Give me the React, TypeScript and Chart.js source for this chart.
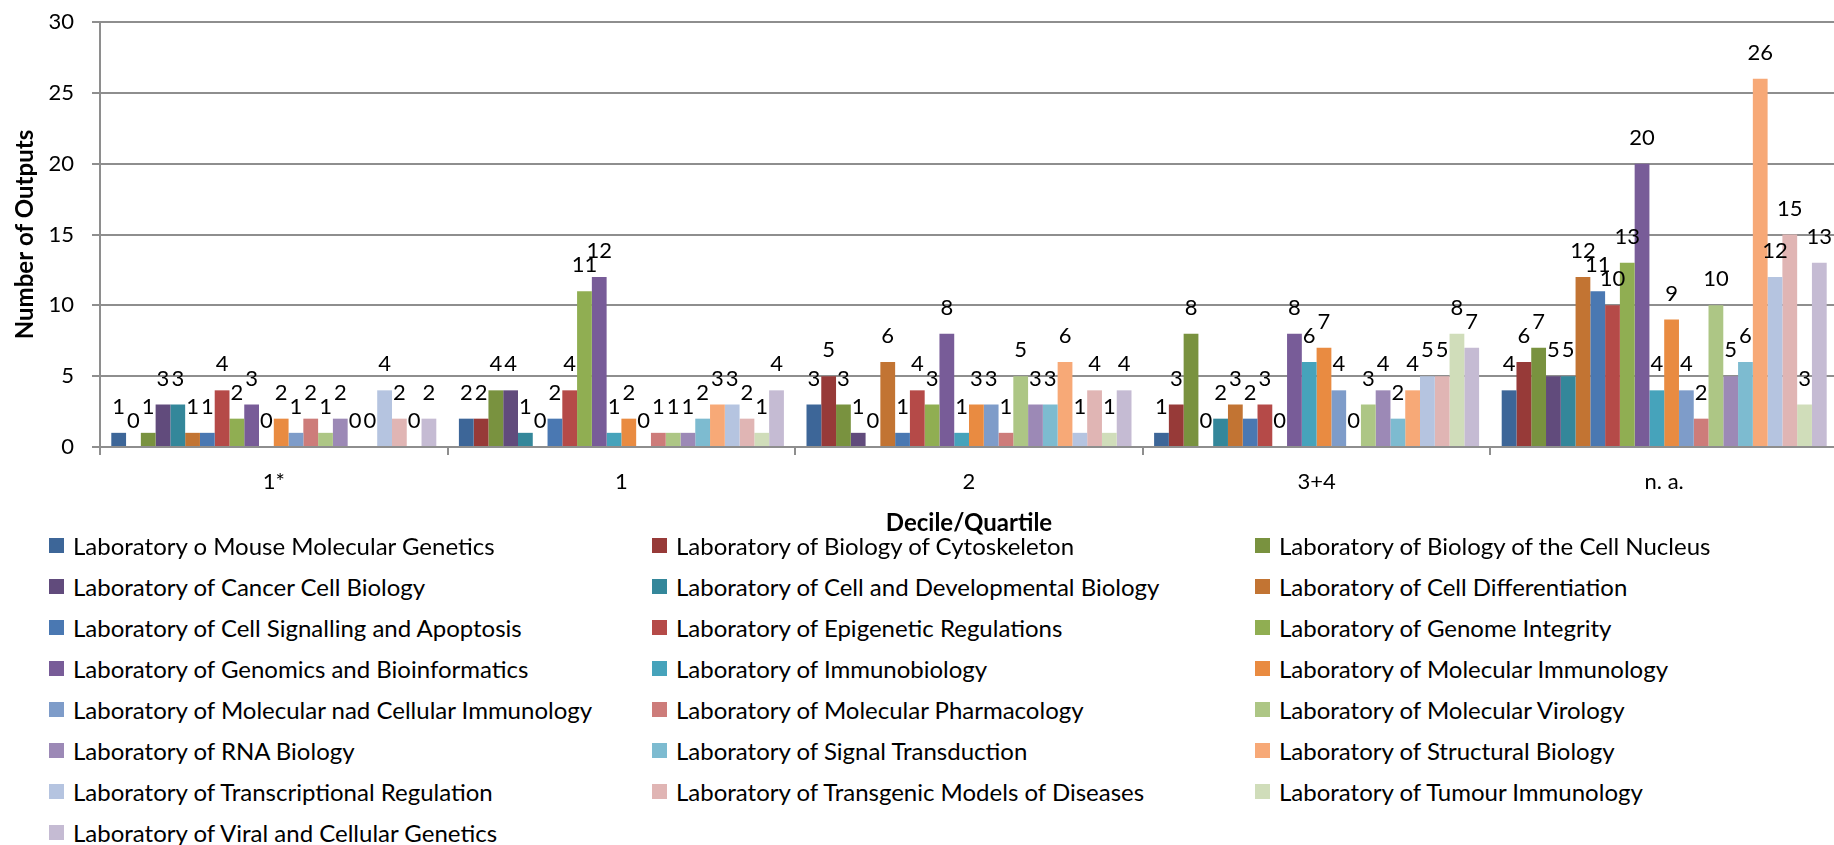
import React, { useEffect, useRef } from "react";
import { Chart, registerables } from "chart.js";

Chart.register(...registerables);

const categories = ["1*", "1", "2", "3+4", "n. a."];

const seriesNames = [
  "Laboratory o Mouse Molecular Genetics",
  "Laboratory of Biology of Cytoskeleton",
  "Laboratory of Biology of the Cell Nucleus",
  "Laboratory of Cancer Cell Biology",
  "Laboratory of Cell and Developmental Biology",
  "Laboratory of Cell Differentiation",
  "Laboratory of Cell Signalling and Apoptosis",
  "Laboratory of Epigenetic Regulations",
  "Laboratory of Genome Integrity",
  "Laboratory of Genomics and Bioinformatics",
  "Laboratory of Immunobiology",
  "Laboratory of Molecular Immunology",
  "Laboratory of Molecular nad Cellular Immunology",
  "Laboratory of Molecular Pharmacology",
  "Laboratory of Molecular Virology",
  "Laboratory of RNA Biology",
  "Laboratory of Signal Transduction",
  "Laboratory of Structural Biology",
  "Laboratory of Transcriptional Regulation",
  "Laboratory of Transgenic Models of Diseases",
  "Laboratory of Tumour Immunology",
  "Laboratory of Viral and Cellular Genetics",
];

// values per category (1*, 1, 2, 3+4, n. a.)
const mouseMolecularGenetics = [1, 2, 3, 1, 4];
const biologyOfCytoskeleton = [0, 2, 5, 3, 6];
const cellNucleus = [1, 4, 3, 8, 7];
const cancerCellBiology = [3, 4, 1, 0, 5];
const cellDevelopmentalBiology = [3, 1, 0, 2, 5];
const cellDifferentiation = [1, 0, 6, 3, 12];
const cellSignallingApoptosis = [1, 2, 1, 2, 11];
const epigeneticRegulations = [4, 4, 4, 3, 10];
const genomeIntegrity = [2, 11, 3, 0, 13];
const genomicsBioinformatics = [3, 12, 8, 8, 20];
const immunobiology = [0, 1, 1, 6, 4];
const molecularImmunology = [2, 2, 3, 7, 9];
const molecularCellularImmunology = [1, 0, 3, 4, 4];
const molecularPharmacology = [2, 1, 1, 0, 2];
const molecularVirology = [1, 1, 5, 3, 10];
const rnaBiology = [2, 1, 3, 4, 5];
const signalTransduction = [0, 2, 3, 2, 6];
const structuralBiology = [0, 3, 6, 4, 26];
const transcriptionalRegulation = [4, 3, 1, 5, 12];
const transgenicModels = [2, 2, 4, 5, 15];
const tumourImmunology = [0, 1, 1, 8, 3];
const viralCellularGenetics = [2, 4, 4, 7, 13];

const seriesValues = [
  mouseMolecularGenetics,
  biologyOfCytoskeleton,
  cellNucleus,
  cancerCellBiology,
  cellDevelopmentalBiology,
  cellDifferentiation,
  cellSignallingApoptosis,
  epigeneticRegulations,
  genomeIntegrity,
  genomicsBioinformatics,
  immunobiology,
  molecularImmunology,
  molecularCellularImmunology,
  molecularPharmacology,
  molecularVirology,
  rnaBiology,
  signalTransduction,
  structuralBiology,
  transcriptionalRegulation,
  transgenicModels,
  tumourImmunology,
  viralCellularGenetics,
];

const seriesColors = [
  "#3D6698", "#973A38", "#79923F", "#614B7C", "#34879A", "#C27433",
  "#4A78B2", "#B54A48", "#90AE52", "#785C98", "#46A3BB", "#E98B41",
  "#7E9CC9", "#CD7C7A", "#ADC685", "#9C89B6", "#7DBBD0", "#F7A977",
  "#B5C4E0", "#E0B5B4", "#D0DDBA", "#C5BBD3",
];

const yTicks = [0, 5, 10, 15, 20, 25, 30];

const FONT = 'Lato, "Open Sans", sans-serif';
const GRID = "#8E8E8E";

const labelsPlugin = {
  id: "valueLabels",
  afterDatasetsDraw(chart: any) {
    const ctx = chart.ctx;
    ctx.save();
    ctx.font = `22px ${FONT}`;
    ctx.fillStyle = "#000";
    ctx.textAlign = "center";
    ctx.textBaseline = "alphabetic";
    chart.data.datasets.forEach((ds: any, di: number) => {
      const meta = chart.getDatasetMeta(di);
      meta.data.forEach((el: any, i: number) => {
        ctx.fillText(String(ds.data[i]), el.x, el.y - 19);
      });
    });
    ctx.restore();
  },
};

const titlesPlugin = {
  id: "axisTitles",
  afterDraw(chart: any) {
    const ctx = chart.ctx;
    const a = chart.chartArea;
    ctx.save();
    ctx.font = `bold 24px ${FONT}`;
    ctx.fillStyle = "#000";
    ctx.textAlign = "center";
    ctx.textBaseline = "middle";
    ctx.fillText("Decile/Quartile", (a.left + a.right) / 2, a.bottom + 76);
    ctx.translate(25, (a.top + a.bottom) / 2);
    ctx.rotate(-Math.PI / 2);
    ctx.fillText("Number of Outputs", 0, 0);
    ctx.restore();
  },
};

export default function App() {
  const ref = useRef<HTMLCanvasElement>(null);

  useEffect(() => {
    document.body.style.margin = "0";
    document.body.style.overflow = "hidden";
    const canvas = ref.current!;
    const chart = new Chart(canvas, {
      type: "bar",
      data: {
        labels: categories,
        datasets: seriesNames.map((name, i) => ({
          label: name,
          data: seriesValues[i],
          backgroundColor: seriesColors[i],
          borderWidth: 0,
          barPercentage: 1,
          categoryPercentage: 0.935,
        })),
      },
      options: {
        responsive: false,
        animation: false,
        devicePixelRatio: 1,
        layout: { padding: { top: 22, right: 0, left: 0, bottom: 0 } },
        plugins: {
          legend: { display: false },
          tooltip: { enabled: false },
          title: { display: false },
        },
        scales: {
          x: {
            offset: true,
            grid: {
              display: true,
              offset: true,
              drawOnChartArea: false,
              drawTicks: true,
              tickLength: 8,
              color: GRID,
              lineWidth: 2,
            },
            border: { display: true, color: GRID, width: 2 },
            ticks: {
              color: "#000",
              font: { family: FONT, size: 22 },
              padding: 14,
              maxRotation: 0,
            },
            afterFit: (s: any) => {
              s.height = 540 - 447;
            },
          },
          y: {
            min: 0,
            max: 30,
            afterBuildTicks: (s: any) => {
              s.ticks = yTicks.map((v) => ({ value: v }));
            },
            grid: {
              color: GRID,
              lineWidth: 2,
              tickLength: 8,
            },
            border: { display: true, color: GRID, width: 2 },
            ticks: {
              color: "#000",
              font: { family: FONT, size: 22 },
              padding: 18,
            },
            afterFit: (s: any) => {
              s.width = 100;
              s.paddingTop = 0;
              s.paddingBottom = 0;
            },
          },
        },
      },
      plugins: [labelsPlugin, titlesPlugin],
    });
    return () => chart.destroy();
  }, []);

  return (
    <div
      style={{
        position: "relative",
        width: 1834,
        height: 845,
        overflow: "hidden",
        background: "#fff",
        fontFamily: FONT,
      }}
    >
      <canvas
        ref={ref}
        width={1838}
        height={540}
        style={{ position: "absolute", left: 0, top: 0 }}
      />
      {seriesNames.map((name, i) => {
        const row = Math.floor(i / 3);
        const col = i % 3;
        return (
          <div
            key={name}
            style={{
              position: "absolute",
              left: 49 + col * 603,
              top: 545 + row * 41 - 15,
              height: 30,
              display: "flex",
              alignItems: "center",
              whiteSpace: "nowrap",
              fontSize: 24,
              color: "#000",
            }}
          >
            <span
              style={{
                display: "inline-block",
                width: 15,
                height: 15,
                background: seriesColors[i],
                marginRight: 9,
              }}
            />
            <span>{name}</span>
          </div>
        );
      })}
    </div>
  );
}
